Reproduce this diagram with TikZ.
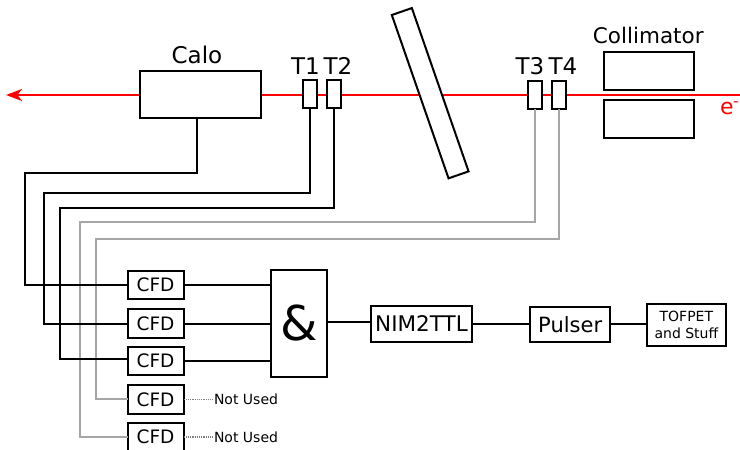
\documentclass[tikz,border=0pt]{standalone}
\usepackage{fontspec}
\setmainfont{DejaVu Sans}
\usetikzlibrary{arrows.meta}
\newcommand{\fsz}[1]{\fontsize{#1}{#1}\selectfont}
\tikzset{
  x=1pt,y=-1pt,
  boxed/.style={draw=black,fill=white,line width=2pt,inner sep=0pt,outer sep=0pt,minimum width=#1},
  cfdbox/.style={boxed=56pt,minimum height=28.5pt,font=\fsz{18.5}},
  tbox/.style={boxed=14.5pt,minimum height=28pt},
  colbox/.style={boxed=89.5pt,minimum height=38pt},
  lab/.style={inner sep=0pt,outer sep=0pt,anchor=base,font=\fsz{23}},
  wire/.style={draw=black,line width=2pt},
  greywire/.style={draw=black!35,line width=2pt},
  unused/.style={draw=black!50,line width=1.2pt,densely dotted},
  beam/.style={draw=red,line width=2pt,-{Stealth[length=16pt,width=12pt,inset=4.5pt]}},
}
\begin{document}
\begin{tikzpicture}
\clip (0,0) rectangle (740,450);
\fill[white] (0,0) rectangle (740,450);
% beam
\coordinate (beamin) at (741,95);
\coordinate (beamout) at (6,95);
\draw[beam] (beamin) -- (beamout);
% detectors
\node[boxed=120.5pt,minimum height=47pt] (calo) at (200.25,94) {};
\node[tbox] (t1) at (309.75,94) {};
\node[tbox] (t2) at (333.75,94) {};
\node[tbox] (t3) at (534.75,94.5) {};
\node[tbox] (t4) at (558.75,94.5) {};
\node[colbox] (col1) at (649,71) {};
\node[colbox] (col2) at (649,118.75) {};
\node[boxed=172.9pt,minimum height=21.2pt,rotate=-70.85] (slab) at (430.2,93.2) {};
% labels
\node[lab] (lcalo) at (197,63) {Calo};
\node[lab] (lt1) at (305.5,74) {T1};
\node[lab] (lt2) at (338,74) {T2};
\node[lab] (lt3) at (530,74) {T3};
\node[lab] (lt4) at (563,74) {T4};
\node[lab,font=\fsz{21.5}] (lcol) at (648.3,43) {Collimator};
\node[lab,anchor=base west,text=red,font=\fsz{22}] (lel) at (720,114.3) {e\textsuperscript{\kern-0.5pt-}};
% electronics
\node[cfdbox] (cfd1) at (155.5,285) {CFD};
\node[cfdbox] (cfd2) at (155.5,323.6) {CFD};
\node[cfdbox] (cfd3) at (155.5,361.2) {CFD};
\node[cfdbox] (cfd4) at (155.5,399.3) {CFD};
\node[cfdbox] (cfd5) at (155.5,437) {CFD};
\node[boxed=55.5pt,minimum height=106.7pt,font=\fsz{48}] (and) at (298.75,323.4) {\&};
\node[boxed=101pt,minimum height=35.7pt,font=\fsz{21.5}] (nim) at (421.5,323.9) {NIM2TTL};
\node[boxed=79.7pt,minimum height=34.7pt,font=\fsz{21}] (pulser) at (570.2,324.3) {Pulser};
\node[boxed=78.7pt,minimum height=42.3pt,font=\fsz{14},align=center] (tof) at (686.4,325.2) {TOFPET\\[3pt]and Stuff};
\node[lab,anchor=base west,font=\fsz{14}] (nu1) at (214,404) {Not Used};
\node[lab,anchor=base west,font=\fsz{14}] (nu2) at (214,442) {Not Used};
% grey wires
\draw[greywire] (t3.south) |- (80.3,222) |- (cfd5.west);
\draw[greywire] (t4.south) |- (96.4,238.8) |- (cfd4.west);
% black wires
\coordinate (calodrop) at (196.5,117.5);
\draw[wire] (calodrop) |- (25,172.7) |- (cfd1.west);
\draw[wire] (t1.south) |- (43.7,193) |- (cfd2.west);
\draw[wire] ([xshift=0.3pt]t2.south) |- (60,207.5) |- ([yshift=2pt]cfd3.west);
\draw[wire] (cfd1.east) -- (cfd1.east -| and.west);
\draw[wire] (cfd2.east) -- (cfd2.east -| and.west);
\draw[wire] (cfd3.east) -- (cfd3.east -| and.west);
\draw[wire] ([yshift=1pt]and.east) -- ([yshift=1pt]and.east -| nim.west);
\draw[wire] (nim.east) -- (nim.east -| pulser.west);
\draw[wire] (pulser.east) -- (pulser.east -| tof.west);
\draw[unused] (cfd4.east) -- (nu1.west |- cfd4.east);
\draw[unused] (cfd5.east) -- (nu2.west |- cfd5.east);
\end{tikzpicture}
\end{document}
